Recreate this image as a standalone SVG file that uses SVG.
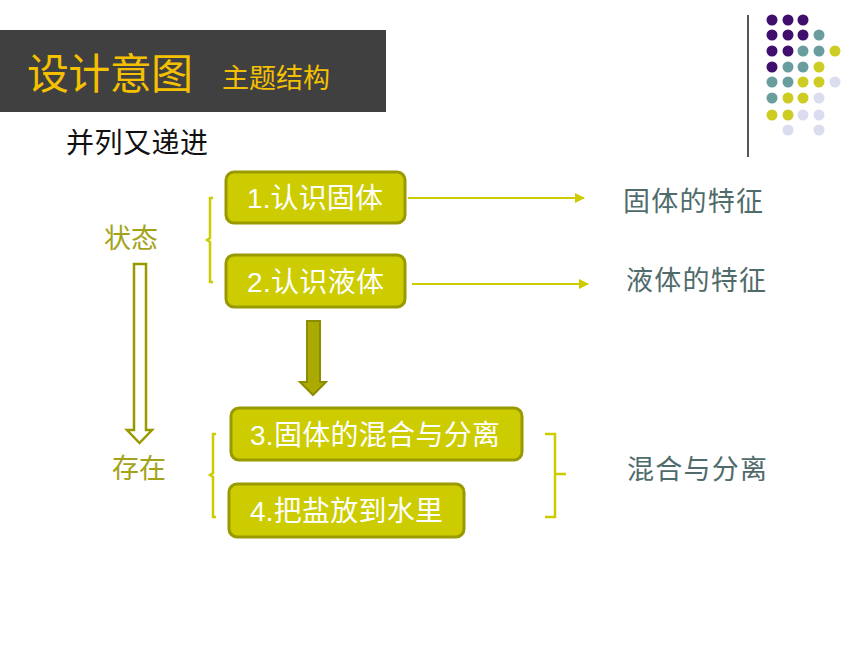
<svg xmlns="http://www.w3.org/2000/svg" width="860" height="645" viewBox="0 0 860 645">
<defs>
<style>
.cjk{font-family:"Liberation Sans","Noto Sans CJK SC",sans-serif}
.box{fill:#CCCC00;stroke:#999900;stroke-width:3}
.bt{fill:#FFFFFF;font-size:28px}
.rt{fill:#4F6B6B;font-size:27px}
.lt{fill:#A3A31A;font-size:27px}
.br{fill:none;stroke:#CCCC00;stroke-width:2.5}
.ln{fill:none;stroke:#CCCC00;stroke-width:2}
.p{fill:#400E6C}.t{fill:#6A9E9E}.y{fill:#CCCC22}.l{fill:#DCDCF0}
</style>
<marker id="ah" viewBox="0 0 10 10" refX="9" refY="5" markerWidth="5" markerHeight="5" orient="auto" markerUnits="strokeWidth">
<path d="M0,0 L10,5 L0,10 z" fill="#CCCC00"/>
</marker>
</defs>
<rect width="860" height="645" fill="#FFFFFF"/>
<g id="header">
<rect x="0" y="30" width="386" height="82" fill="#404040"/>
<text class="cjk" x="27" y="89" font-size="42" fill="#F5C000" textLength="166" lengthAdjust="spacing">设计意图</text>
<text class="cjk" x="222" y="88" font-size="27" fill="#F5C000" textLength="108" lengthAdjust="spacing">主题结构</text>
</g>
<g id="subtitle"><text class="cjk" x="66" y="153" font-size="28" fill="#111111" textLength="142" lengthAdjust="spacing">并列又递进</text></g>
<g id="decor">
<line x1="748" y1="15" x2="748" y2="157" stroke="#555555" stroke-width="2"/>
<circle class="p" cx="772" cy="20" r="5.5"/><circle class="p" cx="788" cy="20" r="5.5"/><circle class="p" cx="803" cy="20" r="5.5"/>
<circle class="p" cx="772" cy="35" r="5.5"/><circle class="p" cx="788" cy="35" r="5.5"/><circle class="p" cx="803" cy="35" r="5.5"/><circle class="t" cx="819" cy="35" r="5.5"/>
<circle class="p" cx="772" cy="51" r="5.5"/><circle class="p" cx="788" cy="51" r="5.5"/><circle class="t" cx="803" cy="51" r="5.5"/><circle class="t" cx="819" cy="51" r="5.5"/><circle class="y" cx="835" cy="51" r="5.5"/>
<circle class="p" cx="772" cy="67" r="5.5"/><circle class="t" cx="788" cy="67" r="5.5"/><circle class="t" cx="803" cy="67" r="5.5"/><circle class="y" cx="819" cy="67" r="5.5"/>
<circle class="t" cx="772" cy="82" r="5.5"/><circle class="t" cx="788" cy="82" r="5.5"/><circle class="y" cx="803" cy="82" r="5.5"/><circle class="y" cx="819" cy="82" r="5.5"/><circle class="l" cx="835" cy="82" r="5.5"/>
<circle class="t" cx="772" cy="98" r="5.5"/><circle class="y" cx="788" cy="98" r="5.5"/><circle class="y" cx="803" cy="98" r="5.5"/><circle class="l" cx="819" cy="98" r="5.5"/>
<circle class="y" cx="772" cy="115" r="5.5"/><circle class="y" cx="788" cy="115" r="5.5"/><circle class="l" cx="803" cy="115" r="5.5"/><circle class="l" cx="819" cy="115" r="5.5"/>
<circle class="l" cx="788" cy="130" r="5.5"/><circle class="l" cx="819" cy="130" r="5.5"/>
</g>
<g id="connectors">
<line class="ln" x1="408" y1="198" x2="584" y2="198" marker-end="url(#ah)"/>
<line class="ln" x1="412" y1="284" x2="588" y2="284" marker-end="url(#ah)"/>
<path class="br" d="M213,198 H210 V238 L207,240 L210,242 V282 H213"/>
<path class="br" d="M216,434 H213 V473 L210,475 L213,477 V517 H216"/>
<path class="br" d="M545,434 H555 V474 H566 M555,474 V517 H545"/>
<path d="M134,264 H146 V430 H152 L139.5,443 L127,430 H134 Z" fill="#FFFFFF" stroke="#999900" stroke-width="2.5"/>
<path d="M307,321 H320 V382 H326 L313,395 L300,382 H307 Z" fill="#AAAA00" stroke="#8C8C00" stroke-width="2"/>
</g>
<g id="n1"><rect class="box" x="226" y="172" width="179" height="51" rx="8"/><text class="cjk bt" x="247" y="208" textLength="136" lengthAdjust="spacing">1.认识固体</text></g>
<g id="n2"><rect class="box" x="226" y="255" width="179" height="52" rx="8"/><text class="cjk bt" x="247" y="292" textLength="137" lengthAdjust="spacing">2.认识液体</text></g>
<g id="n3"><rect class="box" x="231" y="408" width="291" height="52" rx="8"/><text class="cjk bt" x="250" y="445" textLength="250" lengthAdjust="spacing">3.固体的混合与分离</text></g>
<g id="n4"><rect class="box" x="229" y="484" width="235" height="53" rx="8"/><text class="cjk bt" x="250" y="521" textLength="193" lengthAdjust="spacing">4.把盐放到水里</text></g>
<g id="labels">
<text class="cjk lt" x="104" y="248" textLength="54" lengthAdjust="spacing">状态</text>
<text class="cjk lt" x="112" y="478" textLength="54" lengthAdjust="spacing">存在</text>
<text class="cjk rt" x="623" y="211" textLength="140" lengthAdjust="spacing">固体的特征</text>
<text class="cjk rt" x="626" y="290" textLength="140" lengthAdjust="spacing">液体的特征</text>
<text class="cjk rt" x="627" y="479" textLength="140" lengthAdjust="spacing">混合与分离</text>
</g>
</svg>
